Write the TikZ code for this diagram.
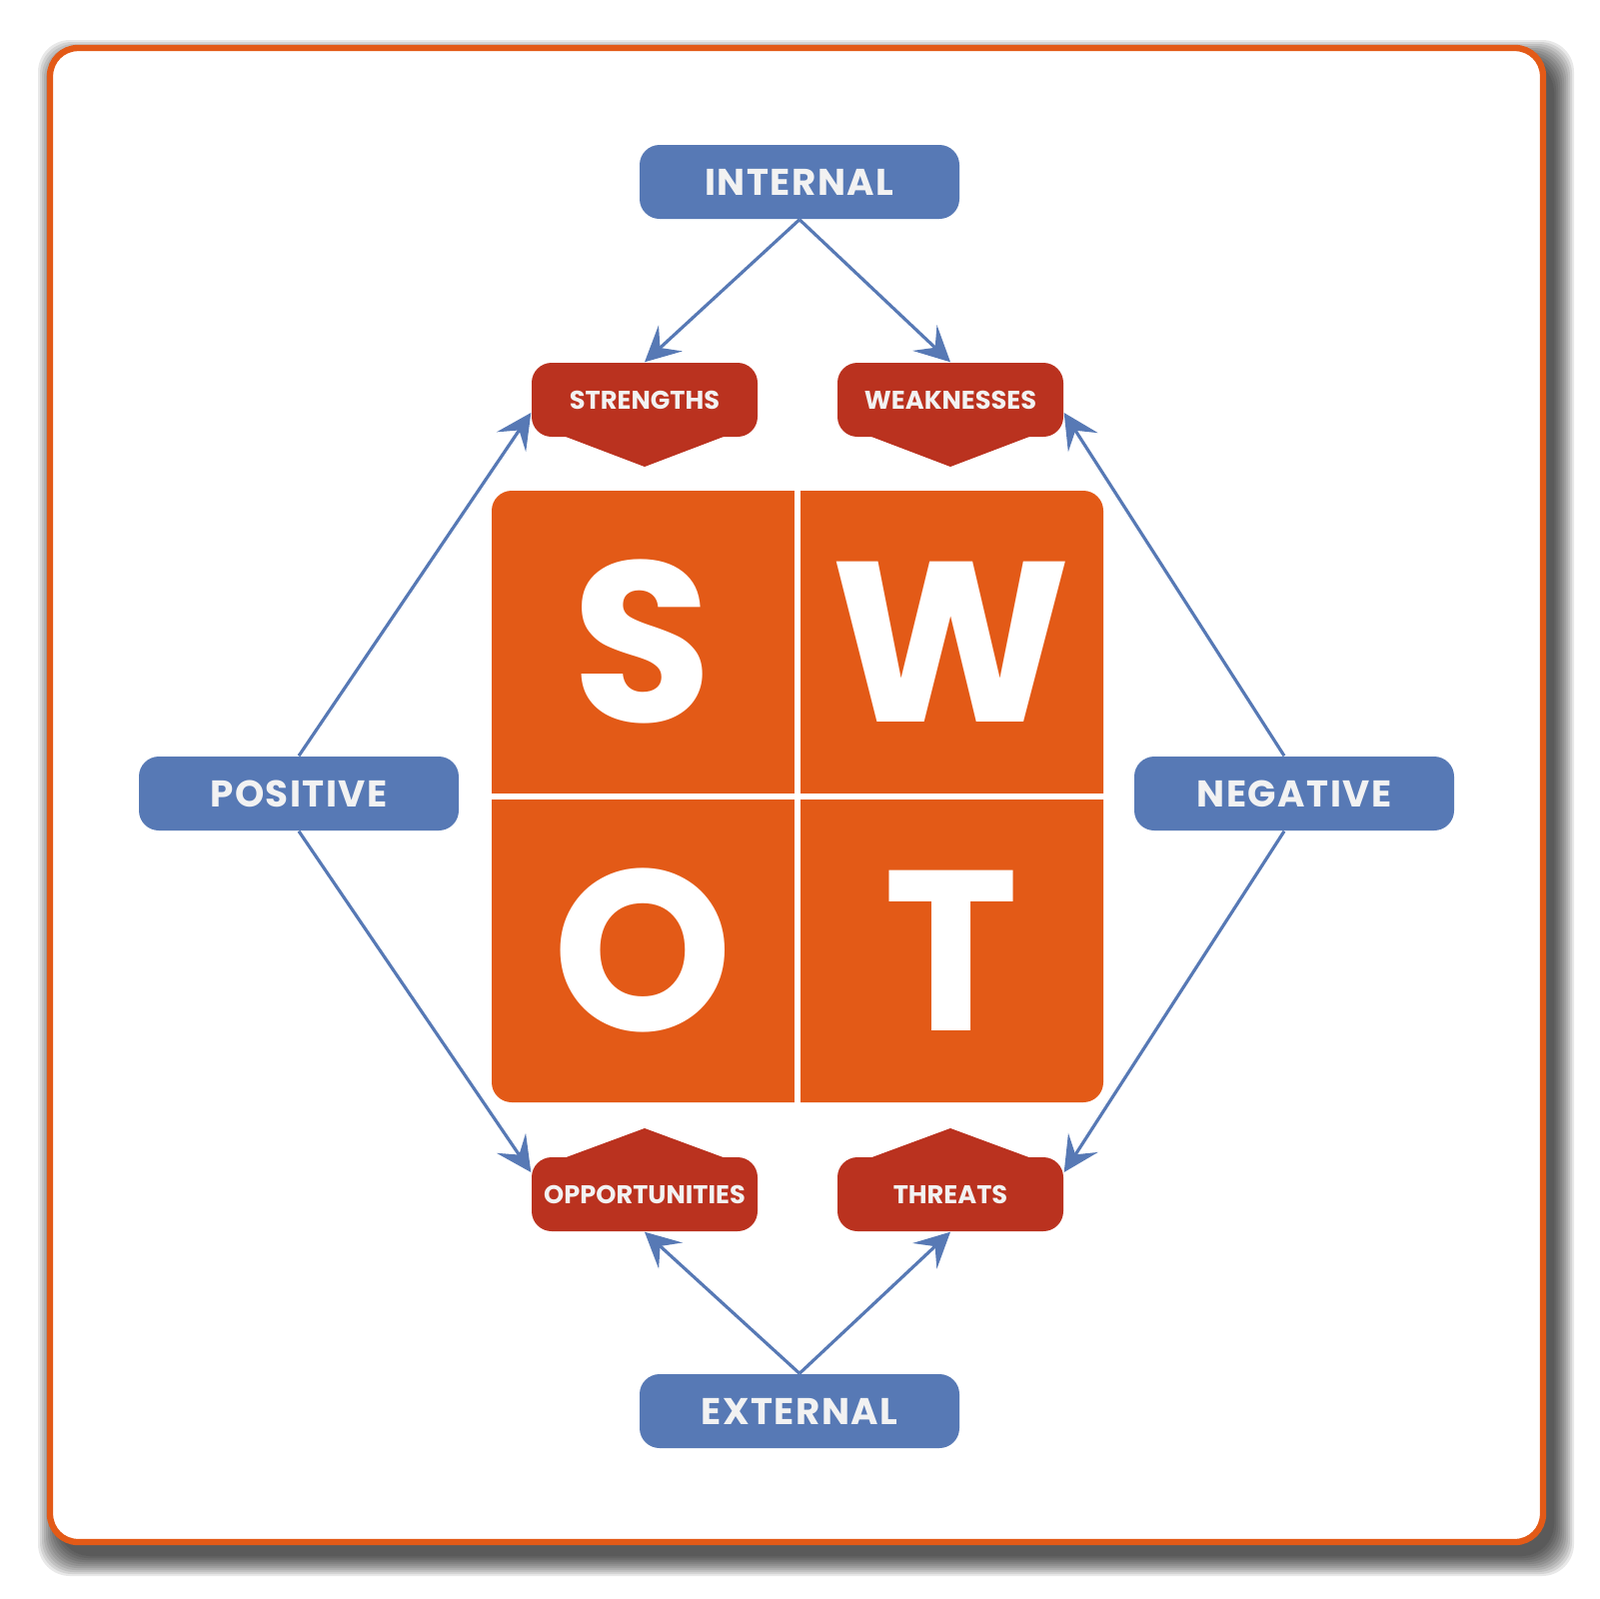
\documentclass[tikz,border=0pt]{standalone}
\usepackage{fontspec}
\setmainfont{Poppins}
\newfontfamily\widefont{Poppins}[LetterSpace=4.0]
\usepackage{tikz}
\usetikzlibrary{calc,arrows.meta}

\definecolor{swotorange}{HTML}{E35A17}
\definecolor{swotred}{HTML}{BA321F}
\definecolor{swotblue}{HTML}{5779B5}
\definecolor{swottext}{HTML}{F2F2F2}

\begin{document}
\begin{tikzpicture}[x=0.1mm,y=-0.1mm,
    bluebox/.style={fill=swotblue,rounded corners=2mm,minimum width=32mm,minimum height=7.4mm,
      text=swottext,font=\widefont\fontsize{10.6}{12}\selectfont\bfseries,inner sep=0pt},
    redbox/.style={fill=swotred,rounded corners=2mm,minimum width=22.6mm,minimum height=7.4mm,
      text=swottext,font=\fontsize{7.3}{9}\selectfont\bfseries,inner sep=0pt},
    bigletter/.style={text=white,font=\fontsize{65}{70}\selectfont\bfseries,inner sep=0pt},
    conn/.style={swotblue,line width=0.9pt,-{Stealth[length=10pt,width=10pt,inset=4pt]}}]
    \useasboundingbox (0,0) rectangle (1600,1600);

    % Frame with soft shadow
    \foreach \r in {0,2,...,20}
      \fill[black,opacity=0.09,rounded corners=3.2mm] (58-\r,60-\r) rectangle (1555+\r,1557+\r);
    \draw[swotorange,fill=white,line width=1.8pt,rounded corners=2.8mm] (50,48) rectangle (1544,1543);

    % SWOT square
    \fill[swotorange,rounded corners=2mm] (492,491) rectangle (1104,1103);
    \draw[white,line width=1.7pt] (798,480) -- (798,1110);
    \draw[white,line width=1.9pt] (480,797) -- (1110,797);
    \node[bigletter] (s) at (643,642) {S};
    \node[bigletter] (w) at (952,642) {W};
    \node[bigletter] (o) at (643,951) {O};
    \node[bigletter] (t) at (952,951) {T};

    % Blue labels
    \node[bluebox] (int) at (800,182) {INTERNAL};
    \node[bluebox] (ext) at (800,1412) {EXTERNAL};
    \node[bluebox] (pos) at (299,794) {POSITIVE};
    \node[bluebox] (neg) at (1295,794) {NEGATIVE};

    % Red labels with chevrons
    \fill[swotred] (553,432) -- (645,467) -- (737,432) -- cycle;
    \fill[swotred] (859,432) -- (951,467) -- (1043,432) -- cycle;
    \fill[swotred] (553,1163) -- (645,1129) -- (737,1163) -- cycle;
    \fill[swotred] (859,1163) -- (951,1129) -- (1043,1163) -- cycle;
    \node[redbox] (str) at (645,400) {STRENGTHS};
    \node[redbox] (wea) at (951,400) {WEAKNESSES};
    \node[redbox] (opp) at (645,1195) {OPPORTUNITIES};
    \node[redbox] (thr) at (951,1195) {THREATS};

    % Connectors
    \draw[conn] (int.south) -- (str.north);
    \draw[conn] (int.south) -- (wea.north);
    \draw[conn] (pos.north) -- ([yshift=-1.3mm]str.west);
    \draw[conn] ([xshift=-1mm]neg.north) -- ([yshift=-1.3mm]wea.east);
    \draw[conn] (pos.south) -- ([yshift=2.2mm]opp.west);
    \draw[conn] ([xshift=-1mm]neg.south) -- ([yshift=2.2mm]thr.east);
    \draw[conn] (ext.north) -- (opp.south);
    \draw[conn] (ext.north) -- (thr.south);
\end{tikzpicture}
\end{document}
